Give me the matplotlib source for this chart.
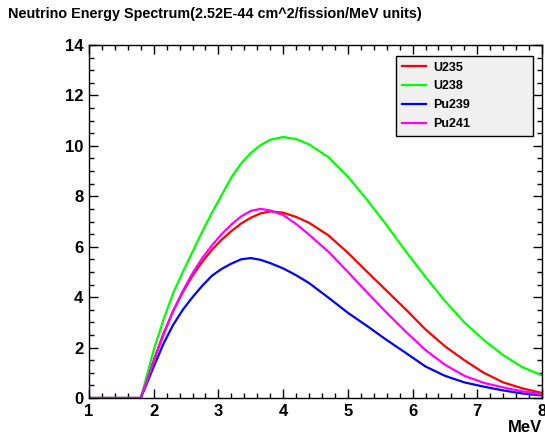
import numpy as np
import matplotlib
matplotlib.use("Agg")
import matplotlib.pyplot as plt
from matplotlib.ticker import MultipleLocator

plt.rcParams['font.family'] = ['Liberation Sans', 'DejaVu Sans']
plt.rcParams['font.weight'] = 'bold'

# neutrino energy (MeV) and spectra
energy = [1.0, 1.8, 2.0, 2.15, 2.3, 2.45, 2.6, 2.75, 2.9, 3.05, 3.2, 3.35, 3.5,
          3.65, 3.8, 4.0, 4.2, 4.4, 4.7, 5.0, 5.3, 5.6, 5.9, 6.2, 6.5, 6.8,
          7.1, 7.4, 7.7, 8.0]
u235 = [0, 0, 1.5, 2.55, 3.45, 4.2, 4.85, 5.4, 5.88, 6.28, 6.62, 6.92, 7.15,
        7.32, 7.4, 7.35, 7.18, 6.95, 6.45, 5.76, 5.0, 4.25, 3.5, 2.72, 2.05, 1.5,
        1.0, 0.62, 0.38, 0.2]
u238 = [0, 0, 1.9, 3.1, 4.16, 5.0, 5.8, 6.6, 7.35, 8.05, 8.75, 9.3, 9.72,
        10.03, 10.24, 10.35, 10.27, 10.06, 9.55, 8.78, 7.85, 6.85, 5.8, 4.8, 3.85, 3.0,
        2.3, 1.7, 1.22, 0.9]
pu239 = [0, 0, 1.24, 2.15, 2.9, 3.5, 4.0, 4.45, 4.85, 5.12, 5.33, 5.5, 5.55,
         5.48, 5.35, 5.14, 4.87, 4.56, 3.98, 3.38, 2.85, 2.3, 1.78, 1.25, 0.88, 0.62,
         0.45, 0.3, 0.18, 0.1]
pu241 = [0, 0, 1.45, 2.5, 3.45, 4.25, 4.95, 5.55, 6.05, 6.5, 6.88, 7.2, 7.42,
         7.5, 7.44, 7.26, 6.9, 6.48, 5.8, 5.0, 4.18, 3.38, 2.62, 1.9, 1.32, 0.88,
         0.6, 0.42, 0.26, 0.15]

series = [
    ("U235", u235, "#ff0000"),
    ("U238", u238, "#00ff00"),
    ("Pu239", pu239, "#0000ff"),
    ("Pu241", pu241, "#ff00ff"),
]

fig = plt.figure(figsize=(5.45, 4.38), dpi=100)
ax = fig.add_axes([89 / 545, 40 / 438, 453 / 545, 353 / 438])

for name, vals, col in series:
    ax.plot(energy, vals, color=col, lw=1.6, label=name)

ax.set_xlim(1, 8)
ax.set_ylim(0, 14)
ax.xaxis.set_major_locator(MultipleLocator(1))
ax.xaxis.set_minor_locator(MultipleLocator(0.2))
ax.yaxis.set_major_locator(MultipleLocator(2))
ax.yaxis.set_minor_locator(MultipleLocator(0.5))
ax.tick_params(which='both', direction='in', top=True, right=True,
               width=1, labelsize=12)
ax.tick_params(which='major', length=6.5)
ax.tick_params(which='minor', length=3.5)
ax.tick_params(axis='x', pad=4)
ax.tick_params(axis='y', pad=4)
for lab in ax.get_xticklabels() + ax.get_yticklabels():
    lab.set_fontweight('bold')
for sp in ax.spines.values():
    sp.set_linewidth(1.0)

leg = ax.legend(loc='upper left', bbox_to_anchor=(0.678, 0.751, 0.302, 0.218),
                mode='expand', borderaxespad=0, fancybox=False,
                edgecolor='black', facecolor='#f0f0f0', framealpha=1,
                prop={'size': 9, 'weight': 'bold'}, handlelength=1.9,
                handletextpad=0.6, labelspacing=0.55, borderpad=0.45)
leg.get_frame().set_linewidth(1.0)

fig.text(8 / 545, 1 - 14 / 438,
         "Neutrino Energy Spectrum(2.52E-44 cm^2/fission/MeV units)",
         fontsize=10.4, fontweight='bold', ha='left', va='center')
fig.text(542 / 545, 1 - 428 / 438, "MeV", fontsize=12, fontweight='bold',
         ha='right', va='center')

fig.savefig("out.png", dpi=100)
